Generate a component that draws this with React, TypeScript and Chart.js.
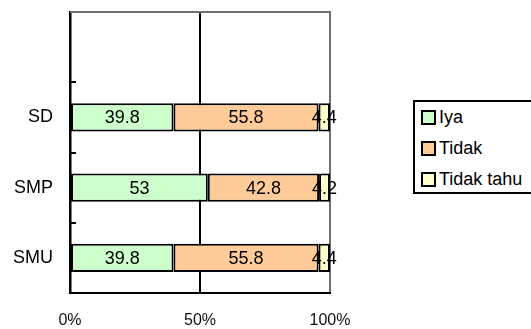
import React, { useEffect, useRef } from "react";
import { Chart, registerables } from "chart.js";

Chart.register(...registerables);

const categories = ["", "SD", "SMP", "SMU"];
const iya = [null, 39.8, 53, 39.8];
const tidak = [null, 55.8, 42.8, 55.8];
const tidakTahu = [null, 4.4, 4.2, 4.4];
const seriesNames = ["Iya", "Tidak", "Tidak tahu"];
const seriesColors = ["#ccffcc", "#ffcc99", "#ffffcc"];
const xTicks = [0, 50, 100];

const FONT = "'Liberation Sans', Arial, sans-serif";

const extras = {
  id: "extras",
  afterDraw(chart: any) {
    const ctx = chart.ctx;
    const area = chart.chartArea;
    const y = chart.scales.y;
    ctx.save();
    // top border (gray)
    ctx.fillStyle = "#707070";
    ctx.fillRect(area.left, Math.round(area.top) - 1, area.right - area.left + 1, 2);
    // inside tick marks at category boundaries
    ctx.strokeStyle = "#000";
    ctx.lineWidth = 2;
    for (let i = 1; i < categories.length; i++) {
      const py = Math.round((y.getPixelForValue(i - 1) + y.getPixelForValue(i)) / 2);
      ctx.beginPath();
      ctx.moveTo(area.left - 1, py);
      ctx.lineTo(area.left + 6, py);
      ctx.stroke();
    }
    // data labels
    ctx.fillStyle = "#000";
    ctx.font = `18px ${FONT}`;
    ctx.textAlign = "center";
    ctx.textBaseline = "middle";
    chart.data.datasets.forEach((ds: any, di: number) => {
      const meta = chart.getDatasetMeta(di);
      meta.data.forEach((bar: any, i: number) => {
        const v = ds.data[i];
        if (v == null) return;
        const cx = (bar.x + bar.base) / 2;
        ctx.fillText(String(v), cx, bar.y + 1);
      });
    });
    ctx.restore();
  },
};

export default function App() {
  const ref = useRef<HTMLCanvasElement>(null);
  useEffect(() => {
    document.body.style.margin = "0";
    const data = [iya, tidak, tidakTahu];
    const chart = new Chart(ref.current!, {
      type: "bar",
      data: {
        labels: categories,
        datasets: seriesNames.map((n, i) => ({
          label: n,
          data: data[i] as any,
          backgroundColor: seriesColors[i],
          borderColor: "#000",
          borderWidth: 2,
          borderSkipped: false,
          categoryPercentage: 1,
          barPercentage: 0.4,
        })),
      },
      options: {
        indexAxis: "y",
        animation: false,
        responsive: false,
        maintainAspectRatio: false,
        layout: { padding: { top: 12, right: 201, bottom: 0, left: 0 } },
        plugins: { legend: { display: false }, tooltip: { enabled: false } },
        scales: {
          x: {
            stacked: true,
            min: 0,
            max: 100,
            afterBuildTicks(scale: any) {
              scale.ticks = xTicks.map((v) => ({ value: v }));
            },
            afterFit(scale: any) {
              scale.height = 36;
              scale.paddingLeft = 0;
              scale.paddingRight = 0;
            },
            ticks: {
              callback: (v: any) => v + "%",
              color: "#111",
              font: { family: FONT, size: 16 },
              padding: 18,
              maxRotation: 0,
            },
            grid: {
              drawTicks: false,
              color: (c: any) => (c.tick && c.tick.value === 100 ? "#707070" : "#000"),
              lineWidth: 2,
            },
            border: { color: "#000", width: 2 },
          },
          y: {
            stacked: true,
            afterFit(scale: any) {
              scale.width = 70;
              scale.paddingTop = 0;
              scale.paddingBottom = 0;
            },
            ticks: {
              color: "#000",
              font: { family: FONT, size: 18 },
              padding: 17,
            },
            grid: { display: false, drawTicks: false },
            border: { color: "#000", width: 2.5 },
          },
        },
      },
      plugins: [extras],
    });
    return () => chart.destroy();
  }, []);

  const sw = (c: string) => ({
    display: "inline-block",
    width: 11,
    height: 11,
    border: "2px solid #000",
    background: c,
    marginRight: 3,
    verticalAlign: "middle",
    position: "relative" as const,
    top: -1,
  });

  return (
    <div style={{ position: "fixed", left: 0, top: 0, width: 531, height: 329, overflow: "hidden", background: "#fff" }}>
      <canvas ref={ref} width={531} height={329} style={{ display: "block" }} />
      <div
        style={{
          position: "absolute",
          left: 413,
          top: 100,
          width: 140,
          height: 90,
          border: "2px solid #000",
          background: "#fff",
          fontFamily: FONT,
          fontSize: 18,
          color: "#000",
          boxSizing: "content-box",
        }}
      >
        {seriesNames.map((n, i) => (
          <div key={n} style={{ position: "absolute", left: 6, top: 3 + i * 31, height: 24, lineHeight: "24px", whiteSpace: "nowrap" }}>
            <span style={sw(seriesColors[i])} />
            {n}
          </div>
        ))}
      </div>
    </div>
  );
}
